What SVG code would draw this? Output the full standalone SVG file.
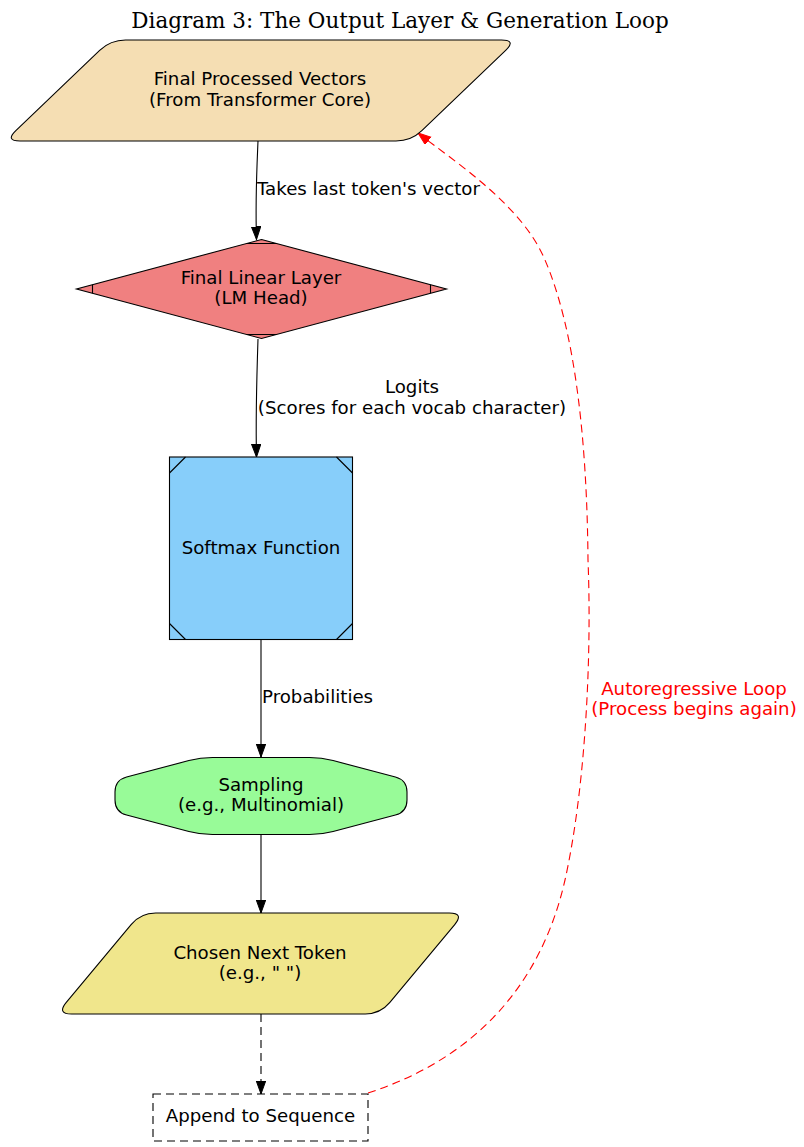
<svg xmlns="http://www.w3.org/2000/svg" width="804" height="1147" viewBox="0 0 804 1147">
<style>
  .lbl { font-family: "DejaVu Sans", "Liberation Sans", sans-serif; font-size: 18.2px; fill: #000; }
  .mid { text-anchor: middle; }
  .title { font-family: "DejaVu Serif", "Liberation Serif", serif; font-size: 21.5px; text-anchor: middle; fill: #000; }
  .node { stroke: #000; stroke-width: 1.1; }
  .edge { fill: none; stroke: #000; stroke-width: 1.1; }
  .dash { stroke-dasharray: 8,5; }
  .red { stroke: #ff0000; }
  .redtxt { fill: #ff0000; }
</style>
<defs>
  <marker id="ah" markerUnits="userSpaceOnUse" markerWidth="16" markerHeight="12" refX="13" refY="5" orient="auto">
    <path d="M0,0.3 L13,5 L0,9.7 z" fill="#000" stroke="#000" stroke-width="1"/>
  </marker>
  <marker id="ahr" markerUnits="userSpaceOnUse" markerWidth="16" markerHeight="12" refX="13" refY="5" orient="auto">
    <path d="M0,0.3 L13,5 L0,9.7 z" fill="#ff0000" stroke="#ff0000" stroke-width="1"/>
  </marker>
</defs>
<rect width="804" height="1147" fill="#fff"/>
<text class="title" x="400" y="28">Diagram 3: The Output Layer &amp; Generation Loop</text>

<g id="edges">
  <path class="edge" d="M258,141 C256.8,170 255.2,200 256.5,239.5" marker-end="url(#ah)"/>
  <text class="lbl" x="257" y="195">Takes last token's vector</text>
  <path class="edge" d="M258,339 C256.8,375 255.5,415 256.5,457" marker-end="url(#ah)"/>
  <text class="lbl mid" x="412" y="393">Logits</text>
  <text class="lbl mid" x="412" y="414">(Scores for each vocab character)</text>
  <path class="edge" d="M261,640 L261,757" marker-end="url(#ah)"/>
  <text class="lbl" x="262" y="703">Probabilities</text>
  <path class="edge" d="M261,835 L261,913" marker-end="url(#ah)"/>
  <path class="edge dash" d="M261,1014 L261,1094" marker-end="url(#ah)"/>
  <path class="edge dash red" d="M368,1093 C470,1060 540,990 565,880 C585,790 592,660 588,560 C587,440 575,330 545,260 C522,205 455,162 418,133" marker-end="url(#ahr)"/>
  <text class="lbl mid redtxt" x="694" y="695">Autoregressive Loop</text>
  <text class="lbl mid redtxt" x="694" y="715">(Process begins again)</text>
</g>

<g id="n_vectors">
  <path class="node" fill="#f5deb3" d="M125.5,40 L501.5,40 Q516.5,40 505.66,50.37 L421.84,130.63 Q411,141 396,141 L20,141 Q5,141 15.84,130.63 L99.66,50.37 Q110.5,40 125.5,40 Z"/>
  <text class="lbl mid" x="260" y="85">Final Processed Vectors</text>
  <text class="lbl mid" x="260" y="106">(From Transformer Core)</text>
</g>

<g id="n_linear">
  <path class="node" fill="#f08080" d="M261.5,239.5 L446.5,289 L261.5,338.5 L76.5,289 Z"/>
  <path class="edge" d="M246.5,243.5 L276.5,243.5 M246.5,334.5 L276.5,334.5 M92.5,284.7 L92.5,293.3 M430.5,284.7 L430.5,293.3"/>
  <text class="lbl mid" x="261" y="284">Final Linear Layer</text>
  <text class="lbl mid" x="261" y="304">(LM Head)</text>
</g>

<g id="n_softmax">
  <rect class="node" fill="#87cefa" x="169.5" y="457" width="183" height="182.5"/>
  <path class="edge" d="M169.5,473 L185.5,457 M336.5,457 L352.5,473 M169.5,623.5 L185.5,639.5 M336.5,639.5 L352.5,623.5"/>
  <text class="lbl mid" x="261" y="554">Softmax Function</text>
</g>

<g id="n_sampling">
  <path class="node" fill="#98fb98" d="M212.5,757.5 L309.5,757.5 Q321.5,757.5 333.1,760.55 L395.4,776.95 Q407,780 407,792 L407,800 Q407,812 395.4,815.05 L333.1,831.45 Q321.5,834.5 309.5,834.5 L212.5,834.5 Q200.5,834.5 188.9,831.45 L126.6,815.05 Q115,812 115,800 L115,792 Q115,780 126.6,776.95 L188.9,760.55 Q200.5,757.5 212.5,757.5 Z"/>
  <text class="lbl mid" x="261" y="791">Sampling</text>
  <text class="lbl mid" x="261" y="811">(e.g., Multinomial)</text>
</g>

<g id="n_token">
  <path class="node" fill="#f0e68c" d="M155.7,913 L449.3,913 Q464.3,913 454.71,924.53 L389.89,1002.47 Q380.3,1014 365.3,1014 L71.7,1014 Q56.7,1014 66.29,1002.47 L131.11,924.53 Q140.7,913 155.7,913 Z"/>
  <text class="lbl mid" x="260" y="959">Chosen Next Token</text>
  <text class="lbl mid" x="260" y="979">(e.g., " ")</text>
</g>

<g id="n_append">
  <rect class="node dash" fill="#fff" x="153" y="1094" width="215" height="47"/>
  <text class="lbl mid" x="260.5" y="1122">Append to Sequence</text>
</g>
</svg>
